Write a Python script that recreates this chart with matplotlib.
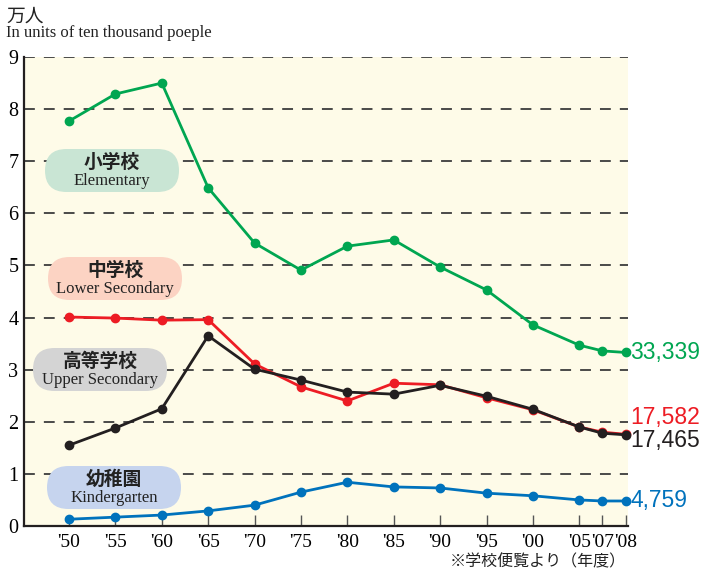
import numpy as np
import matplotlib.pyplot as plt
from matplotlib.patches import FancyBboxPatch
from matplotlib.transforms import Affine2D

# datos (万人)
years = ["'50", "'55", "'60", "'65", "'70", "'75", "'80", "'85", "'90", "'95", "'00", "'05", "'07", "'08"]
elementary = [7.77, 8.29, 8.50, 6.49, 5.43, 4.91, 5.37, 5.49, 4.97, 4.53, 3.86, 3.47, 3.36, 3.33]
lower_sec = [4.01, 3.99, 3.95, 3.96, 3.11, 2.67, 2.40, 2.74, 2.71, 2.46, 2.23, 1.90, 1.80, 1.76]
upper_sec = [1.55, 1.88, 2.25, 3.65, 3.01, 2.80, 2.57, 2.53, 2.70, 2.49, 2.24, 1.90, 1.78, 1.75]
kinder = [0.13, 0.17, 0.21, 0.29, 0.40, 0.65, 0.84, 0.75, 0.73, 0.63, 0.58, 0.50, 0.48, 0.48]
end_labels = ["33,339", "17,582", "17,465", "4,759"]

# posiciones: pasos de 5 años, luego '07 y '08 a medio paso
x_pos = np.array(list(range(12)) + [11.5, 12.0])

serif = ['Liberation Serif', 'Noto Sans CJK JP']
cjk = ['Noto Sans CJK JP', 'DejaVu Sans']

GREEN = '#00a651'
RED = '#ed1c24'
BLACK = '#231f20'
BLUE = '#0072bc'

fig = plt.figure(figsize=(7.05, 5.76), dpi=100)
ax = fig.add_axes([24 / 705, 1 - 526 / 576, 604 / 705, 469 / 576])
ax.set_facecolor('#fefbe8')
ax.set_xlim(-0.97, 12.05)
ax.set_ylim(0, 9)

for v in range(1, 10):
    ax.axhline(v, color='#3c3c3c', lw=1.3, dashes=(6, 5), zorder=1)

ax.spines['top'].set_visible(False)
ax.spines['right'].set_visible(False)
ax.spines['left'].set_color(BLACK)
ax.spines['bottom'].set_color(BLACK)
ax.spines['left'].set_linewidth(1.6)
ax.spines['bottom'].set_linewidth(1.6)

ax.set_xticks(x_pos)
ax.set_xticklabels(years, family=serif, fontsize=14)
ax.tick_params(axis='x', direction='in', length=8, width=1, color='#555555', pad=6)
ax.set_yticks(range(10))
ax.set_yticklabels([str(v) for v in range(10)], family=serif, fontsize=14.5)
ax.tick_params(axis='y', length=0, pad=4)

series = [(kinder, BLUE), (elementary, GREEN), (lower_sec, RED), (upper_sec, BLACK)]
for vals, col in series:
    ax.plot(x_pos, vals, color=col, lw=2, marker='o', markersize=6, zorder=3, clip_on=False)

# valores finales
end_vals = [elementary[-1], lower_sec[-1], upper_sec[-1], kinder[-1]]
end_cols = [GREEN, RED, BLACK, BLUE]
offsets = [0, 0.32, -0.1, 0]
for lab, v, col, off in zip(end_labels, end_vals, end_cols, offsets):
    ax.text(12.1, v + off, lab, color=col, fontsize=16.5, family=['Liberation Sans'],
            ha='left', va='center', clip_on=False)

# etiquetas tipo píldora (en píxeles de la figura)
px = Affine2D().scale(1 / 705, 1 / 576) + fig.transFigure
boxes = [
    (45, 149, '#c9e5d4', '小学校', 'Elementary'),
    (48, 257, '#fcd3c3', '中学校', 'Lower Secondary'),
    (33, 348, '#d4d4d4', '高等学校', 'Upper Secondary'),
    (47, 466, '#c6d4ee', '幼稚園', 'Kindergarten'),
]
w, h = 134, 43
for x0, y0, fc, jp, en in boxes:
    yb = 576 - y0 - h
    p = FancyBboxPatch((x0, yb), w, h, boxstyle='round,pad=0,rounding_size=21.5',
                       transform=px, facecolor=fc, edgecolor='none', zorder=4)
    fig.add_artist(p)
    cx = x0 + w / 2
    fig.text(cx / 705, (576 - y0 - 13) / 576, jp, family=cjk, fontsize=13.5,
             weight='bold', color='#222222', ha='center', va='center', zorder=5)
    fig.text(cx / 705, (576 - y0 - 32) / 576, en, family=serif, fontsize=12,
             color='#222222', ha='center', va='center', zorder=5)

fig.text(6 / 705, 1 - 16 / 576, '万人', family=cjk, fontsize=13.5, color='#222222', va='center')
fig.text(6 / 705, 1 - 33 / 576, 'In units of ten thousand poeple', family=serif,
         fontsize=12, color='#222222', va='center')
fig.text(626 / 705, 1 - 562 / 576, '※学校便覧より（年度）', family=cjk, fontsize=11.5,
         color='#222222', ha='right', va='center')

fig.savefig('out.png', dpi=100)
